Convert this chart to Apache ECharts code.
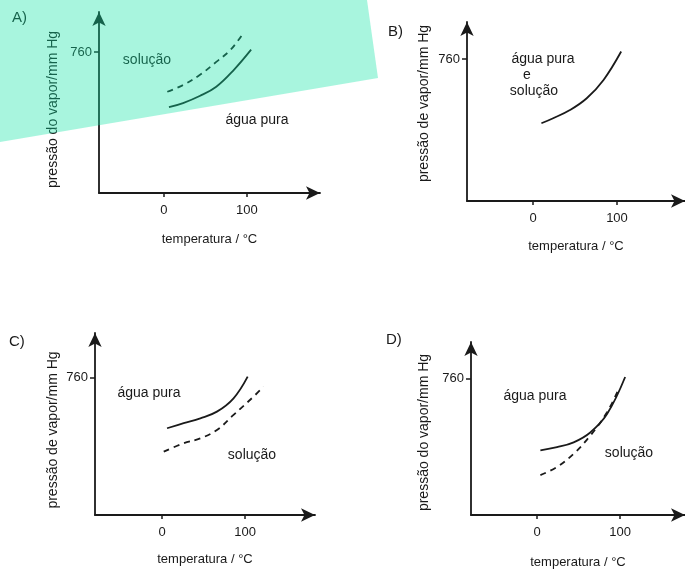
<!DOCTYPE html>
<html>
<head>
<meta charset="utf-8">
<script src="https://cdn.jsdelivr.net/npm/echarts@6/dist/echarts.min.js"></script>
<style>
html,body{margin:0;padding:0;background:#fff;}
#c{width:685px;height:570px;}
</style>
</head>
<body>
<div id="c"></div>
<script>
// ---- data (temperature °C, vapour pressure mmHg) ----
const xTicks = [0, 100];
const yTicks = [760];

const aPura    = [[6,463],[23,485],[43,523],[63,573],[84,663],[105,773]];
const aSolucao = [[4,546],[23,582],[43,636],[63,707],[80,771],[94,852]];

const bAmbas   = [[10,416],[24,443],[44,487],[64,550],[84,648],[105,800]];

const cPura    = [[6,481],[26,509],[46,536],[66,573],[86,647],[103,767]];
const cSolucao = [[2,351],[26,398],[46,425],[66,471],[86,555],[110,656],[122,712]];

const dPura    = [[4,360],[24,378],[44,405],[64,460],[84,561],[106,769]];
const dSolucao = [[4,222],[24,268],[44,341],[64,442],[84,571],[97,690]];

const yNames = ['pressão do vapor/mm Hg','pressão de vapor/mm Hg','pressão de vapor/mm Hg','pressão do vapor/mm Hg'];
const xName = 'temperatura / °C';

// ---- layout ----
const FONT = '"Liberation Sans", Arial, sans-serif';
const INK = '#1a1a1a';
const panels = [
  {left:99,  top:12,  width:221, height:181, xmin:-78.3, xmax:188, ymax:976,  xGap:40, yGap:39, yShift:7},
  {left:467, top:22,  width:218, height:179, xmin:-78.6, xmax:181, ymax:958,  xGap:39, yGap:36, yShift:-8},
  {left:95,  top:333, width:220, height:182, xmin:-80.7, xmax:184, ymax:1009, xGap:38, yGap:35, yShift:6},
  {left:471, top:342, width:214, height:175, xmin:-79.5, xmax:178, ymax:964,  xGap:41, yGap:40, yShift:4}
];

const grids = [], xAxes = [], yAxes = [];
panels.forEach((p, i) => {
  grids.push({left:p.left, top:p.top, width:p.width, height:p.height, containLabel:false});
  xAxes.push({
    type:'value', gridIndex:i, min:p.xmin, max:p.xmax,
    name:xName, nameLocation:'middle', nameGap:p.xGap,
    nameTextStyle:{fontFamily:FONT, fontSize:13, color:INK},
    axisLine:{show:true, onZero:false, symbol:['none','arrow'], symbolSize:[10,14], symbolOffset:[0,0],
              lineStyle:{color:INK, width:1.8}},
    axisTick:{show:true, length:4, customValues:xTicks, lineStyle:{color:INK, width:1.5}},
    axisLabel:{show:true, customValues:xTicks, margin:11, fontFamily:FONT, fontSize:13, color:INK},
    splitLine:{show:false}
  });
  const s = p.yShift;
  yAxes.push({
    type:'value', gridIndex:i, min:0, max:p.ymax,
    name:yNames[i], nameLocation:'middle', nameRotate:90, nameGap:p.yGap,
    nameTextStyle:{fontFamily:FONT, fontSize:14, color:INK,
                   padding: s > 0 ? [0, 2*s, 0, 0] : [0, 0, 0, -2*s]},
    axisLine:{show:true, onZero:false, symbol:['none','arrow'], symbolSize:[10,14], symbolOffset:[0,0],
              lineStyle:{color:INK, width:1.8}},
    axisTick:{show:true, length:5, customValues:yTicks, lineStyle:{color:INK, width:1.5}},
    axisLabel:{show:true, customValues:yTicks, margin:7, fontFamily:FONT, fontSize:13, color:INK},
    splitLine:{show:false}
  });
});

function curve(idx, data, dashed) {
  return {
    type:'line', xAxisIndex:idx, yAxisIndex:idx, data:data, smooth:0.4,
    showSymbol:false, symbol:'none', silent:true,
    lineStyle:{color:INK, width:1.8, type: dashed ? [6,5] : 'solid'}
  };
}

const series = [
  curve(0, aPura, false), curve(0, aSolucao, true),
  curve(1, bAmbas, false),
  curve(2, cPura, false), curve(2, cSolucao, true),
  curve(3, dPura, false), curve(3, dSolucao, true)
];

function txt(x, y, s, size, align) {
  return {type:'text', x:x, y:y, z:10,
    style:{text:s, fontFamily:FONT, fontSize:size, fill:INK, align:align||'center', verticalAlign:'middle'}};
}

const graphic = [
  // panel letters
  txt(12, 18, 'A)', 15, 'left'),
  txt(388, 32, 'B)', 15, 'left'),
  txt(9, 342, 'C)', 15, 'left'),
  txt(386, 340, 'D)', 15, 'left'),
  // annotations
  txt(147, 60, 'solução', 14),
  txt(257, 120, 'água pura', 14),
  txt(543, 59, 'água pura', 14),
  txt(527, 75, 'e', 14),
  txt(534, 91, 'solução', 14),
  txt(149, 393, 'água pura', 14),
  txt(252, 455, 'solução', 14),
  txt(535, 396, 'água pura', 14),
  txt(629, 453, 'solução', 14),
  // mint highlight band over panel A
  {type:'polygon', z:100, silent:true,
   shape:{points:[[0,0],[367,0],[378,78],[0,142]]},
   style:{fill:'rgba(14,228,164,0.36)'}}
];

const chart = echarts.init(document.getElementById('c'), null, {renderer:'canvas'});
chart.setOption({
  animation:false,
  backgroundColor:'#ffffff',
  grid:grids, xAxis:xAxes, yAxis:yAxes, series:series, graphic:graphic
});
</script>
</body>
</html>
